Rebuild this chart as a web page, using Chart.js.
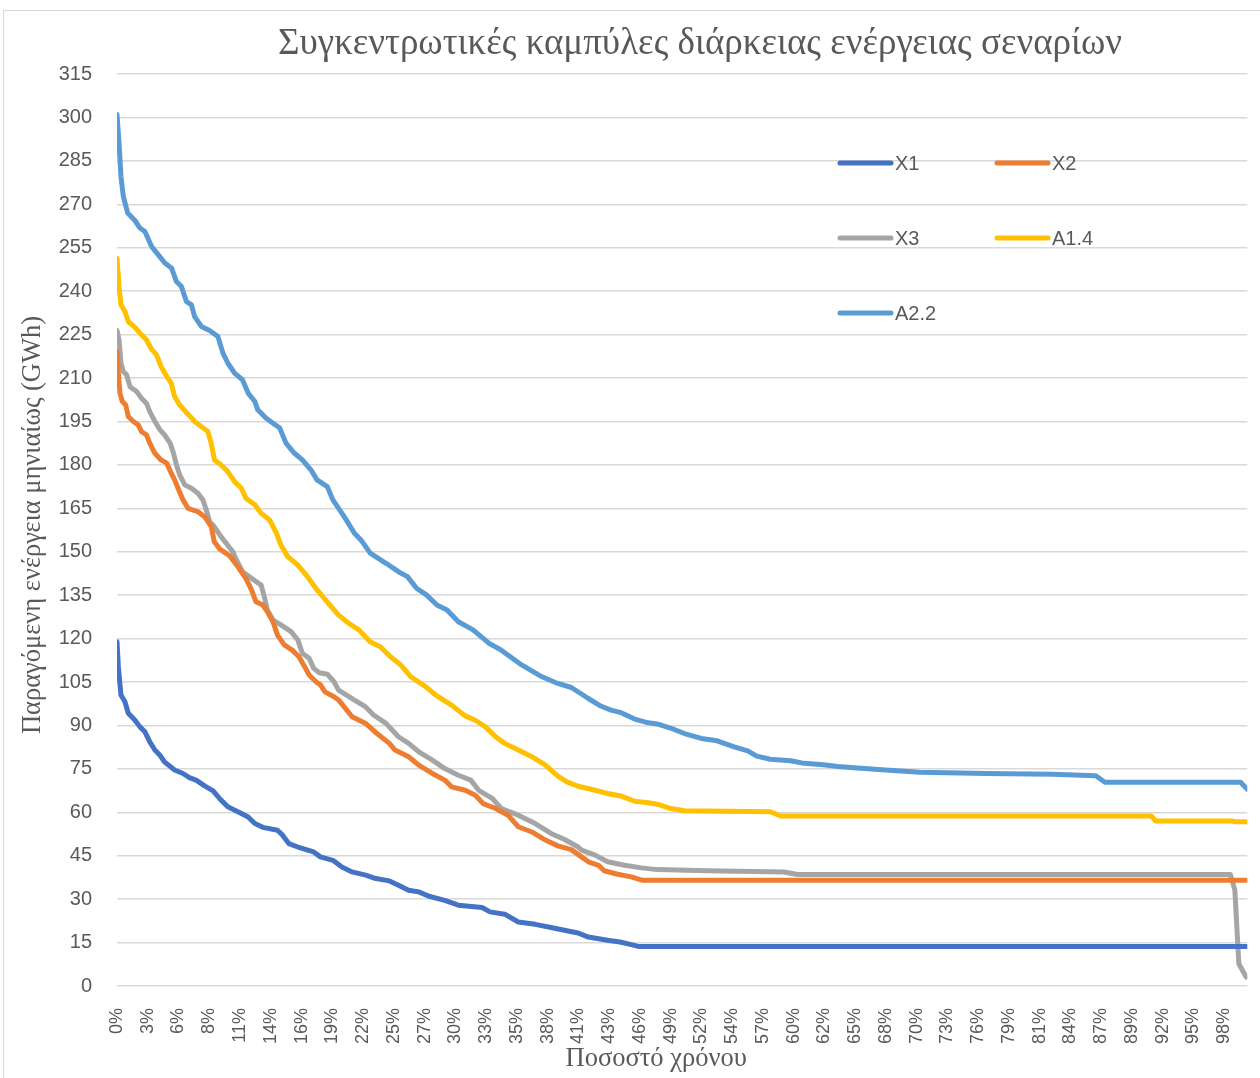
<!DOCTYPE html>
<html lang="el">
<head>
<meta charset="utf-8">
<title>Συγκεντρωτικές καμπύλες διάρκειας ενέργειας σεναρίων</title>
<script src="https://cdn.jsdelivr.net/npm/chart.js@4/dist/chart.umd.min.js"></script>
<style>
  html, body { margin: 0; padding: 0; background: #ffffff; }
  #wrap { width: 1260px; height: 1078px; position: relative; }
</style>
</head>
<body>
<div id="wrap"><canvas id="chart" width="1260" height="1078"></canvas></div>
<script>
// Texts
const chartTitle = 'Συγκεντρωτικές καμπύλες διάρκειας ενέργειας σεναρίων';
const yTitle = 'Παραγόμενη ενέργεια μηνιαίως (GWh)';
const xTitle = 'Ποσοστό χρόνου';

// Category tick labels along the time axis (percentage of time)
const xTickLabels = ['0%','3%','6%','8%','11%','14%','16%','19%','22%','25%','27%','30%',
  '33%','35%','38%','41%','43%','46%','49%','52%','54%','57%','60%','62%','65%','68%',
  '70%','73%','76%','79%','81%','84%','87%','89%','92%','95%','98%'];

// Series: [percent of time, monthly energy in GWh]
const seriesX1 = [[0,118.9],[0.12,110.3],[0.35,100.5],[0.7,98.2],[1.0,94.2],[1.59,91.8],[2.03,89.5],
  [2.47,87.8],[2.9,84.3],[3.35,81.5],[3.8,79.7],[4.2,77.4],[5.1,74.6],[5.84,73.4],[6.4,72],[7,71.1],
  [7.75,69.1],[8.5,67.4],[9.07,64.8],[9.8,61.9],[10.7,60.2],[11.6,58.4],[12.2,56.1],[12.9,54.8],
  [14.2,53.8],[14.65,52.1],[15.2,49.2],[16,48],[17.4,46.3],[18,44.6],[19.1,43.4],[19.9,41.1],
  [20.8,39.4],[22,38.3],[22.9,37.1],[24.1,36.3],[24.9,34.8],[25.8,33.1],[26.7,32.5],[27.6,31],
  [29,29.6],[30.2,27.9],[32.3,27.1],[33,25.6],[34.3,24.8],[35.5,22.1],[37,21.3],[38.4,20.2],
  [39.9,19],[40.8,18.3],[41.7,16.9],[43.4,15.8],[44.5,15.2],[45.5,14.3],[46.2,13.6],[100,13.6]];

const seriesX2 = [[0,219.2],[0.12,211.7],[0.26,204.8],[0.47,201.9],[0.77,200.7],[1.0,196.7],[1.44,195],
  [1.88,193.8],[2.17,191.5],[2.6,190.4],[2.9,187.5],[3.35,184],[3.9,181.7],[4.4,180.6],[4.8,177.1],
  [5.1,174.8],[5.4,171.9],[5.84,167.9],[6.28,165],[7.16,163.8],[7.75,162.1],[8.34,158.7],[8.6,153.5],
  [9.07,151],[9.96,148.6],[10.7,144.8],[11.4,140.8],[11.9,136.8],[12.3,132.7],[12.9,131.6],[13.3,129.3],
  [13.8,125.8],[14.2,121.2],[14.8,117.8],[15.5,116],[16.1,113.7],[16.6,110.3],[17,107.4],[17.6,105.1],
  [18,104],[18.4,101.6],[19.2,99.9],[19.6,98.8],[20.1,96.4],[20.8,93],[22,90.7],[23,87.2],[24.1,83.8],
  [24.6,81.5],[25.8,79.2],[26.7,76.3],[27.9,73.4],[29,71.1],[29.6,68.8],[30.8,67.6],[31.7,65.9],
  [32.4,63],[33.5,61.3],[34.6,59],[35.5,55],[36.7,53.2],[37.9,50.4],[39,48.4],[40.2,47.1],[41.1,44.6],
  [41.7,42.9],[42.6,41.7],[43.1,39.8],[44.3,38.6],[45.5,37.7],[46.5,36.5],[100,36.5]];

const seriesX3 = [[0,226.4],[0.18,223.2],[0.35,215.1],[0.56,212.2],[0.85,211.1],[1.15,207],[1.74,205.3],
  [2.17,203],[2.6,201.3],[2.9,198.4],[3.35,195],[3.8,192.1],[4.2,190.4],[4.7,187.5],[5.0,184],[5.26,180],
  [5.55,176.5],[6.0,173.1],[6.58,171.9],[7.16,170.2],[7.6,167.9],[7.9,164.4],[8.2,160.4],[8.6,158.7],
  [9.2,155.2],[9.66,152.9],[10.25,150],[10.5,147.7],[11.1,143.1],[11.9,140.8],[12.75,138.5],[13,135],
  [13.3,129.9],[13.8,126.4],[14.5,124.7],[15.4,122.4],[16,119.5],[16.4,114.9],[17,113.2],[17.4,109.7],
  [17.9,108.2],[18.6,107.7],[19.2,105.1],[19.6,102.2],[20.8,99.3],[22,96.4],[22.7,93.6],[23.8,90.7],
  [24.9,86.1],[25.8,83.8],[26.7,80.9],[27.9,78],[29,75.1],[30.2,72.8],[31.3,71.1],[32,67.6],[33.2,64.8],
  [34,61.3],[35.5,59],[37,56.1],[38.4,52.7],[39.6,50.6],[40.8,48],[41.1,46.9],[42.3,45.2],[43.4,42.9],
  [44.9,41.7],[46.4,40.8],[47.8,40.2],[52.2,39.8],[59,39.4],[60.2,38.5],[98.5,38.5],[98.9,33.1],
  [99.25,7.7],[99.9,3.1]];

const seriesA14 = [[0,251.4],[0.18,241.6],[0.35,235.3],[0.7,233],[1.0,229.5],[1.59,227.5],[2.17,224.9],
  [2.6,223.2],[3.05,220],[3.5,218],[3.9,214],[4.4,210.5],[4.8,208.2],[5.1,203.6],[5.54,200.7],[6.14,198.1],
  [6.87,195],[7.46,193.2],[8.04,191.5],[8.33,187.5],[8.63,181.7],[9.2,180],[9.8,177.7],[10.4,174.2],
  [11,171.9],[11.4,168.5],[12.2,166.2],[12.75,163.3],[13.5,161],[14.1,156.4],[14.5,152.3],[15.1,148.3],
  [16,145.4],[16.85,141.4],[17.7,136.8],[18.6,132.7],[19.6,128.1],[20.5,125.3],[21.4,123],[22.4,118.9],
  [23.3,117.2],[24.2,113.7],[25.1,110.9],[26,106.8],[27.3,103.4],[28.2,100.5],[29.6,97],[30.8,93.3],
  [31.7,91.8],[32.6,89.5],[33.5,86.1],[34.3,83.8],[35.5,81.5],[36.7,79.2],[37.9,76.3],[39,72.5],
  [39.8,70.5],[40.8,69],[42.3,67.6],[43.4,66.5],[44.6,65.6],[45.8,63.8],[47,63.3],[47.8,62.8],[49,61.3],
  [50.2,60.5],[57.8,60.2],[58.7,58.7],[91.5,58.7],[91.9,57],[98.7,57],[98.9,56.7],[100,56.7]];

const seriesA22 = [[0,301],[0.18,291],[0.35,279.6],[0.56,272.7],[0.94,267],[1.59,264.4],[2.03,261.8],
  [2.47,260.6],[3.06,255.4],[3.64,252.6],[4.23,249.7],[4.82,248],[5.26,243.3],[5.7,241.6],[6.14,236.4],
  [6.58,235.3],[6.87,231.2],[7.46,227.8],[8.19,226.4],[8.93,224.3],[9.37,218.6],[9.81,215.1],[10.4,211.7],
  [11.1,209.4],[11.6,204.8],[12.2,201.9],[12.45,199],[13.2,196.1],[13.8,194.4],[14.4,192.7],[14.95,187.5],
  [15.7,184],[16.4,181.7],[17.15,178.3],[17.7,174.8],[18.6,172.5],[19.1,167.9],[20.1,162.1],[21,156.4],
  [21.6,154],[22.4,149.5],[23.8,146],[24.9,143.1],[25.7,141.4],[26.5,137.4],[27.4,135],[28.3,131.6],
  [29.2,129.9],[30.2,125.8],[31.5,123],[32.9,118.4],[34,116],[35.8,110.9],[37.6,106.8],[39,104.5],
  [40.2,103.1],[41.7,99.3],[42.8,96.7],[43.7,95.3],[44.6,94.4],[45.8,92.2],[47,90.9],[47.8,90.5],
  [49.3,88.6],[50.2,87.2],[51.7,85.5],[53.1,84.7],[54.6,82.6],[55.8,81.2],[56.6,79.4],[57.8,78.3],
  [59.6,77.8],[60.8,76.9],[62.5,76.4],[63.8,75.8],[65.5,75.3],[68,74.6],[71,73.8],[76.9,73.4],
  [82.8,73.1],[86.6,72.6],[87.4,70.4],[99.4,70.4],[100,67.9]];

const seriesNames = ['X1', 'X2', 'X3', 'A1.4', 'A2.2'];
const seriesColors = ['#4472C4', '#ED7D31', '#A5A5A5', '#FFC000', '#5B9BD5'];
const seriesData = [seriesX1, seriesX2, seriesX3, seriesA14, seriesA22];

const TEXT_COLOR = '#595959';
const GRID_COLOR = '#D9D9D9';
const SANS = "'Liberation Sans', Arial, sans-serif";
const SERIF = "'Liberation Serif', 'Times New Roman', serif";

// Labelled category ticks are evenly spaced along the time axis
const TICK_STEP = 100 / 36.75;

// Page frame, title and axis titles
const decorations = {
  id: 'decorations',
  beforeDraw(chart) {
    const ctx = chart.ctx;
    ctx.save();
    ctx.fillStyle = '#ffffff';
    ctx.fillRect(0, 0, chart.width, chart.height);
    ctx.strokeStyle = GRID_COLOR;
    ctx.lineWidth = 1;
    ctx.strokeRect(3.5, 10.5, chart.width + 20, chart.height + 20);
    ctx.restore();
  },
  afterDraw(chart) {
    const ctx = chart.ctx;
    const area = chart.chartArea;
    ctx.save();
    ctx.fillStyle = TEXT_COLOR;
    ctx.textAlign = 'center';
    ctx.textBaseline = 'middle';
    ctx.font = '37px ' + SERIF;
    ctx.fillText(chartTitle, 700, 44);
    ctx.font = '26.5px ' + SERIF;
    ctx.fillText(xTitle, (area.left + area.right) / 2 - 26, 1059);
    ctx.translate(33, (area.top + area.bottom) / 2 - 5);
    ctx.rotate(-Math.PI / 2);
    ctx.fillText(yTitle, 0, 0);
    ctx.restore();
  }
};

// Two-column legend placed inside the plot
const insideLegend = {
  id: 'insideLegend',
  afterDraw(chart) {
    const ctx = chart.ctx;
    const cols = [838, 995];
    const rows = [163, 238, 313];
    ctx.save();
    ctx.font = '20px ' + SANS;
    ctx.textBaseline = 'middle';
    ctx.textAlign = 'left';
    chart.data.datasets.forEach((ds, i) => {
      const x = cols[i % 2];
      const y = rows[Math.floor(i / 2)];
      ctx.strokeStyle = ds.borderColor;
      ctx.lineWidth = 5;
      ctx.lineCap = 'round';
      ctx.beginPath();
      ctx.moveTo(x + 2, y);
      ctx.lineTo(x + 53, y);
      ctx.stroke();
      ctx.fillStyle = TEXT_COLOR;
      ctx.fillText(ds.label, x + 57, y + 1);
    });
    ctx.restore();
  }
};

const datasets = seriesData.map((pts, i) => ({
  label: seriesNames[i],
  data: pts.map(p => ({ x: p[0], y: p[1] })),
  borderColor: seriesColors[i],
  backgroundColor: seriesColors[i],
  borderWidth: 5,
  borderCapStyle: 'round',
  borderJoinStyle: 'round',
  pointRadius: 0,
  pointHoverRadius: 0,
  tension: 0,
  fill: false
}));

new Chart(document.getElementById('chart'), {
  type: 'line',
  data: { datasets },
  plugins: [decorations, insideLegend],
  options: {
    responsive: false,
    animation: false,
    events: [],
    layout: { padding: { top: 74, right: 8, left: 0, bottom: 0 } },
    plugins: {
      legend: { display: false },
      title: { display: false },
      tooltip: { enabled: false }
    },
    scales: {
      x: {
        type: 'linear',
        min: 0,
        max: 100,
        afterBuildTicks(scale) {
          scale.ticks = xTickLabels.map((_, k) => ({ value: k * TICK_STEP }));
        },
        afterFit(scale) { scale.height = 92; },
        grid: { display: false },
        border: { display: false },
        ticks: {
          autoSkip: false,
          minRotation: 90,
          maxRotation: 90,
          padding: 14,
          color: TEXT_COLOR,
          font: { family: SANS, size: 18 },
          callback: (value, index) => xTickLabels[index]
        }
      },
      y: {
        min: 0,
        max: 315,
        afterFit(scale) { scale.width = 117; },
        grid: { color: GRID_COLOR, lineWidth: 1.5, drawTicks: false },
        border: { display: false },
        ticks: {
          stepSize: 15,
          padding: 25,
          color: TEXT_COLOR,
          font: { family: SANS, size: 20 }
        }
      }
    }
  }
});
</script>
</body>
</html>
